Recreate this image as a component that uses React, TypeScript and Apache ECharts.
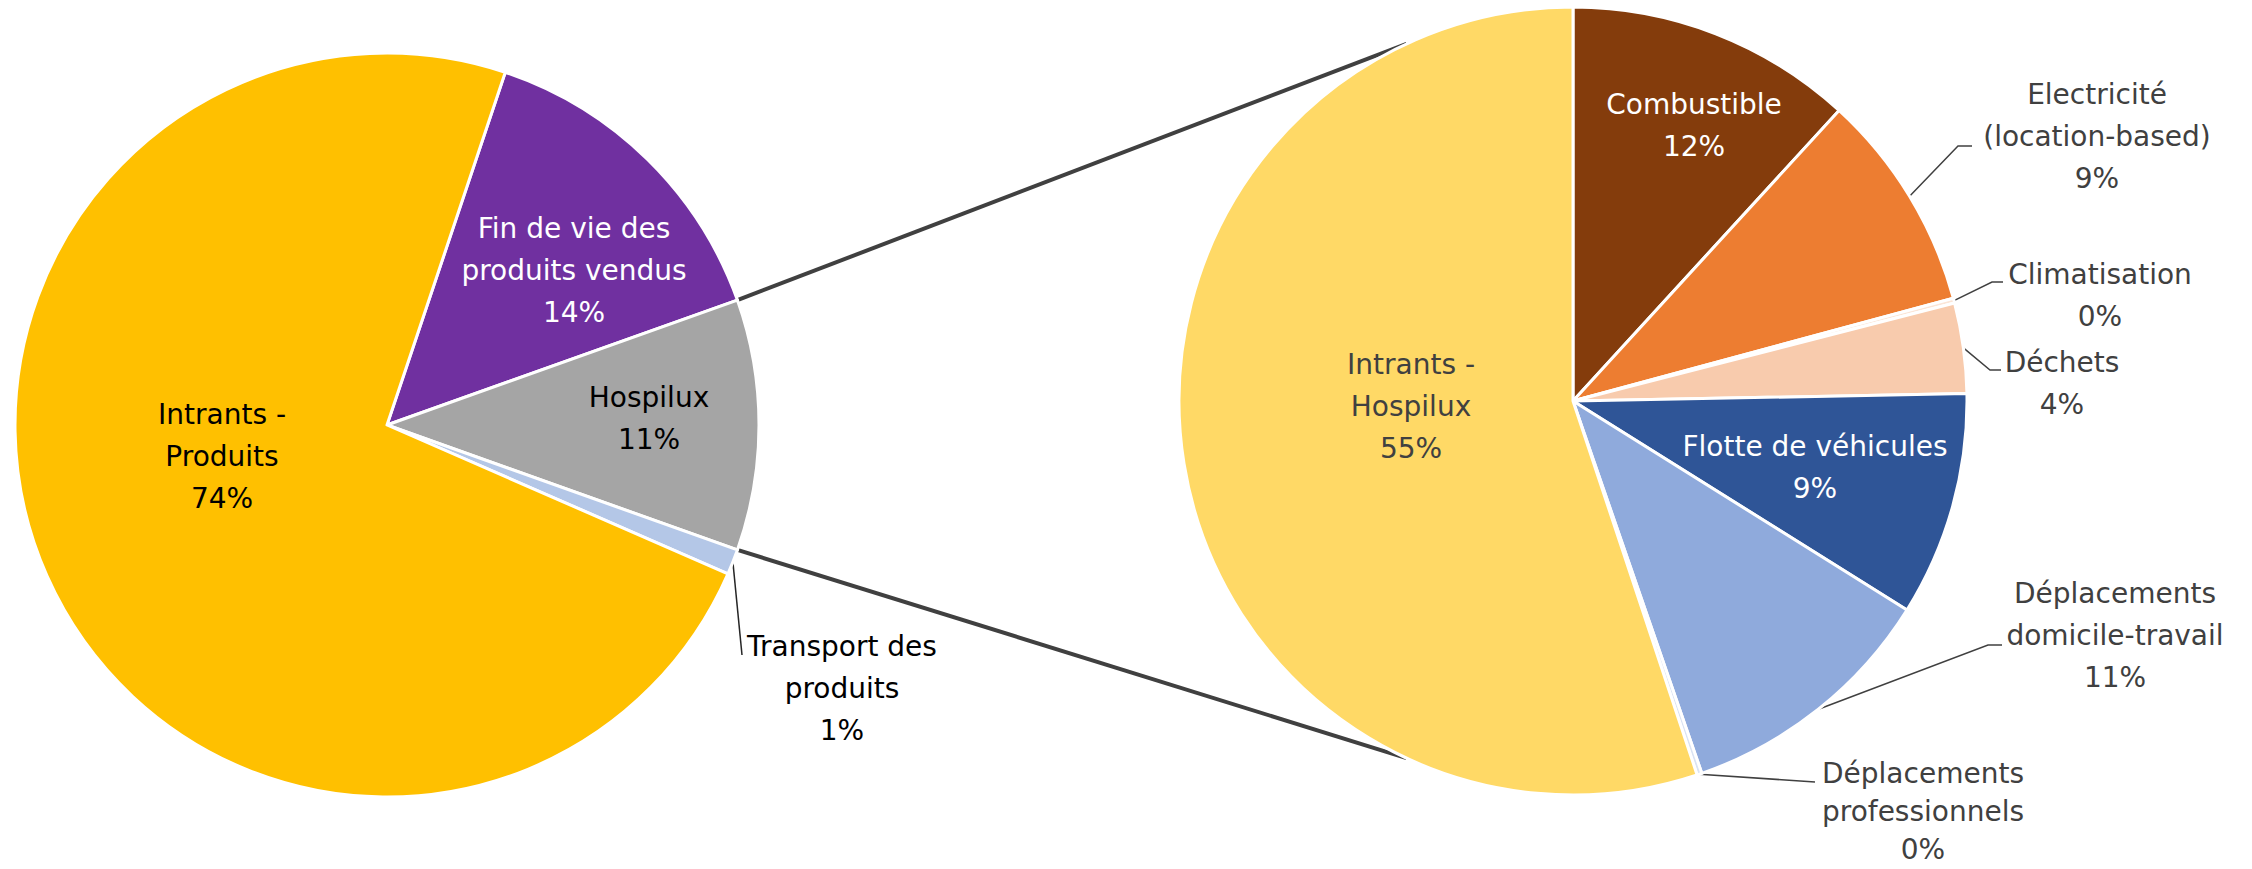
import React, { useEffect, useRef } from "react";
import * as echarts from "echarts";

// ---------- data ----------
const leftNames = [
  "Fin de vie des\nproduits vendus",
  "Hospilux",
  "Transport des\nproduits",
  "Intrants -\nProduits",
];
const leftValues = [14.4, 10.9, 1.1, 73.6];
const leftColors = ["#7030A0", "#A5A5A5", "#B4C7E7", "#FFC000"];

const rightNames = [
  "Combustible",
  "Electricité\n(location-based)",
  "Climatisation",
  "Déchets",
  "Flotte de véhicules",
  "Déplacements\ndomicile-travail",
  "Déplacements\nprofessionnels",
  "Intrants -\nHospilux",
];
const rightValues = [11.8, 9.0, 0.2, 3.7, 9.2, 10.8, 0.2, 55.1];
const rightColors = ["#843C0C", "#ED7D31", "#FBE5D6", "#F8CBAD", "#2F5597", "#8FAADC", "#DAE3F3", "#FFD966"];

// index of the slice that is exploded into the second pie
const SPLIT_INDEX = 1;

// ---------- layout / style ----------
const W = 2252;
const H = 869;
const LEFT_CENTER = [387, 425];
const LEFT_R = 372;
const RIGHT_CENTER = [1573, 401];
const RIGHT_R = 394;
const RIGHT_ANCHOR_DEG = 115; // where the connector lines meet the second pie
const FONT = "DejaVu Sans";
const FONT_SIZE = 28;
const LINE_H = 42;
const DARK = "#404040";

type LabelCfg = { at: number[]; color: string; outside?: boolean; line?: number[][]; lh?: number };

const LEFT_LABELS: LabelCfg[] = [
  { at: [574, 270], color: "#FFFFFF" },
  { at: [649, 418], color: "#000000" },
  { at: [842, 688], color: "#000000", outside: true, line: [[742, 655], [742, 655]] },
  { at: [222, 456], color: "#000000" },
];

const RIGHT_LABELS: LabelCfg[] = [
  { at: [1694, 125], color: "#FFFFFF" },
  { at: [2097, 136], color: DARK, outside: true, line: [[1958, 146], [1972, 146]] },
  { at: [2100, 295], color: DARK, outside: true, line: [[1992, 282], [2003, 282]] },
  { at: [2062, 383], color: DARK, outside: true, line: [[1990, 370], [2001, 370]] },
  { at: [1815, 467], color: "#FFFFFF" },
  { at: [2115, 635], color: DARK, outside: true, line: [[1988, 645], [2002, 645]] },
  { at: [1923, 811], color: DARK, outside: true, line: [[1815, 782], [1815, 782]], lh: 38 },
  { at: [1411, 406], color: DARK },
];

function buildData(names: string[], values: number[], colors: string[], labels: LabelCfg[], lineColor: string) {
  return names.map((name, i) => ({
    name,
    value: values[i],
    itemStyle: { color: colors[i] },
    label: {
      position: labels[i].outside ? "outside" : "inside",
      color: labels[i].color,
      lineHeight: labels[i].lh || LINE_H,
    },
    labelLine: { show: !!labels[i].outside, length: 10, length2: 10, lineStyle: { color: lineColor, width: 1.5 } },
  }));
}

function makeLayout(labels: LabelCfg[]) {
  return (params: any) => {
    const cfg = labels[params.dataIndex];
    const out: any = { x: cfg.at[0], y: cfg.at[1], align: "center", verticalAlign: "middle" };
    if (cfg.line && params.labelLinePoints) {
      out.labelLinePoints = [params.labelLinePoints[0], cfg.line[0], cfg.line[1]];
    }
    return out;
  };
}

export default function App() {
  const ref = useRef<HTMLDivElement>(null);

  useEffect(() => {
    if (!ref.current) return;
    const chart = echarts.init(ref.current, null, { renderer: "svg" });

    const toRad = Math.PI / 180;
    const leftTotal = leftValues.reduce((a, b) => a + b, 0);
    const before = leftValues.slice(0, SPLIT_INDEX).reduce((a, b) => a + b, 0);
    const leftStart = ((before + leftValues[SPLIT_INDEX] / 2) / leftTotal) * 360;
    const half = ((leftValues[SPLIT_INDEX] / 2) / leftTotal) * 360;
    const pUp = [LEFT_CENTER[0] + LEFT_R * Math.cos(half * toRad), LEFT_CENTER[1] - LEFT_R * Math.sin(half * toRad)];
    const pDown = [LEFT_CENTER[0] + LEFT_R * Math.cos(half * toRad), LEFT_CENTER[1] + LEFT_R * Math.sin(half * toRad)];
    const qUp = [
      RIGHT_CENTER[0] + RIGHT_R * Math.cos(RIGHT_ANCHOR_DEG * toRad),
      RIGHT_CENTER[1] - RIGHT_R * Math.sin(RIGHT_ANCHOR_DEG * toRad),
    ];
    const qDown = [
      RIGHT_CENTER[0] + RIGHT_R * Math.cos(RIGHT_ANCHOR_DEG * toRad),
      RIGHT_CENTER[1] + RIGHT_R * Math.sin(RIGHT_ANCHOR_DEG * toRad),
    ];

    const labelBase = {
      show: true,
      fontFamily: FONT,
      fontSize: FONT_SIZE,
      lineHeight: LINE_H,
      formatter: (p: any) => `${p.name}\n${Math.round(p.percent)}%`,
    };

    chart.setOption({
      animation: false,
      backgroundColor: "#FFFFFF",
      graphic: [
        {
          type: "line",
          z: 0,
          silent: true,
          shape: { x1: pUp[0], y1: pUp[1], x2: qUp[0], y2: qUp[1] },
          style: { stroke: DARK, lineWidth: 4 },
        },
        {
          type: "line",
          z: 0,
          silent: true,
          shape: { x1: pDown[0], y1: pDown[1], x2: qDown[0], y2: qDown[1] },
          style: { stroke: DARK, lineWidth: 4 },
        },
      ],
      series: [
        {
          type: "pie",
          z: 2,
          center: LEFT_CENTER,
          radius: LEFT_R,
          startAngle: leftStart,
          clockwise: true,
          avoidLabelOverlap: false,
          itemStyle: { borderColor: "#FFFFFF", borderWidth: 3 },
          label: labelBase,
          labelLayout: makeLayout(LEFT_LABELS),
          emphasis: { disabled: true },
          data: buildData(leftNames, leftValues, leftColors, LEFT_LABELS, "#262626"),
        },
        {
          type: "pie",
          z: 2,
          center: RIGHT_CENTER,
          radius: RIGHT_R,
          startAngle: 90,
          clockwise: true,
          avoidLabelOverlap: false,
          itemStyle: { borderColor: "#FFFFFF", borderWidth: 3 },
          label: labelBase,
          labelLayout: makeLayout(RIGHT_LABELS),
          emphasis: { disabled: true },
          data: buildData(rightNames, rightValues, rightColors, RIGHT_LABELS, DARK),
        },
      ],
    });

    return () => chart.dispose();
  }, []);

  return (
    <div
      ref={ref}
      style={{ position: "absolute", left: 0, top: 0, width: W, height: H, background: "#FFFFFF" }}
    />
  );
}
